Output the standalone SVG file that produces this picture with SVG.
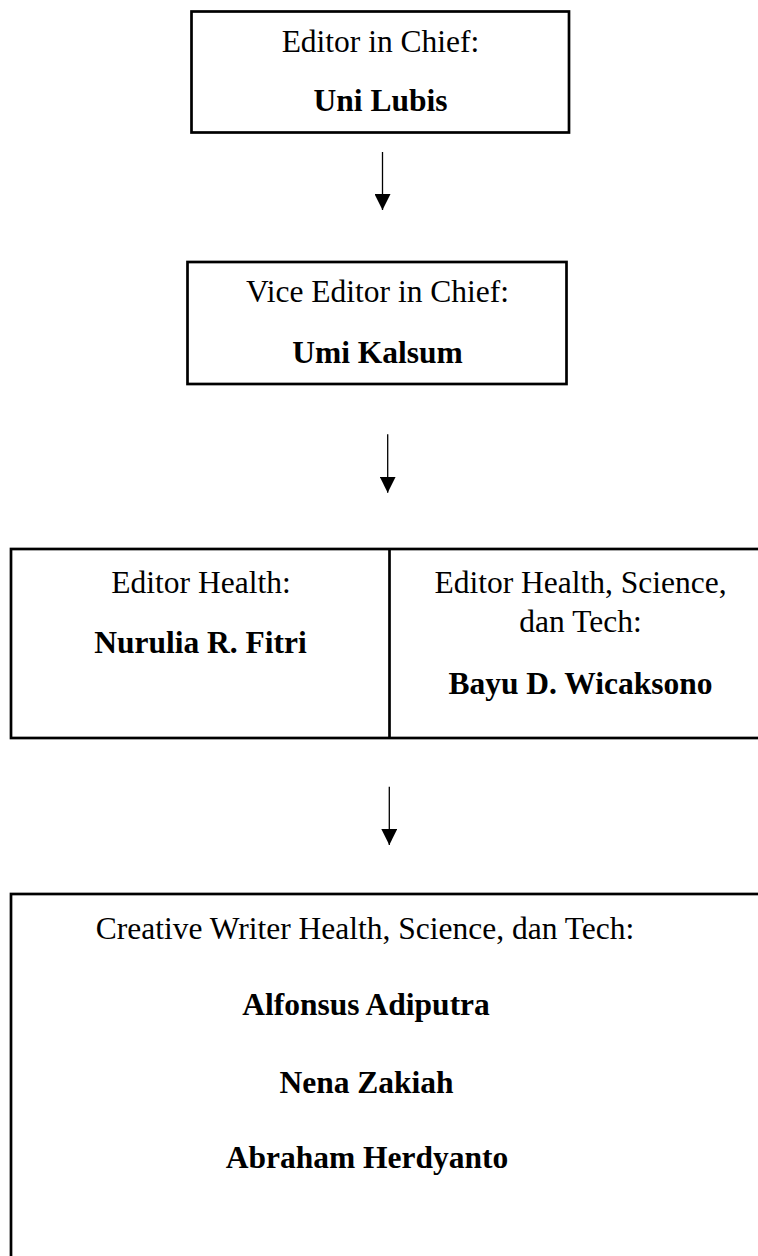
<svg xmlns="http://www.w3.org/2000/svg" width="758" height="1256" viewBox="0 0 758 1256">
<style>
.box{fill:#fff;stroke:#000;stroke-width:2.7}
.t{font-family:"Liberation Serif","Times New Roman",serif;font-size:31.5px;fill:#000;text-anchor:middle}
.b{font-weight:bold}
.c{stroke:#000;stroke-width:1.3;fill:none}
</style>
<defs>
<marker id="ah" markerUnits="userSpaceOnUse" markerWidth="16" markerHeight="16" refX="16" refY="8" orient="auto" viewBox="0 0 16 16">
<path d="M0,0 L16,8 L0,16 z" fill="#000"/>
</marker>
</defs>
<rect width="758" height="1256" fill="#fff"/>
<g id="n-chief">
<rect class="box" x="191.5" y="11.5" width="377.5" height="121"/>
<text class="t" x="380.5" y="51.7">Editor in Chief:</text>
<text class="t b" x="380.5" y="110.7">Uni Lubis</text>
</g>
<g id="n-vice">
<rect class="box" x="187.5" y="262" width="379" height="122"/>
<text class="t" x="377.5" y="301.7">Vice Editor in Chief:</text>
<text class="t b" x="377.5" y="363.3">Umi Kalsum</text>
</g>
<g id="n-editors">
<rect class="box" x="11" y="549" width="762" height="189"/>
<line x1="389.5" y1="549" x2="389.5" y2="738" stroke="#000" stroke-width="2.7"/>
<text class="t" x="201" y="592.5">Editor Health:</text>
<text class="t b" x="200.5" y="652.5">Nurulia R. Fitri</text>
<text class="t" x="580.5" y="593">Editor Health, Science,</text>
<text class="t" x="580.5" y="631.5">dan Tech:</text>
<text class="t b" x="580.5" y="693.5">Bayu D. Wicaksono</text>
</g>
<g id="n-writers">
<rect class="box" x="11" y="894" width="762" height="380"/>
<text class="t" x="365" y="939">Creative Writer Health, Science, dan Tech:</text>
<text class="t b" x="366" y="1015">Alfonsus Adiputra</text>
<text class="t b" x="366.5" y="1092.5">Nena Zakiah</text>
<text class="t b" x="367" y="1168">Abraham Herdyanto</text>
</g>
<g id="connectors">
<line class="c" x1="382.5" y1="152" x2="382.5" y2="210" marker-end="url(#ah)"/>
<line class="c" x1="387.7" y1="434.3" x2="387.7" y2="492.7" marker-end="url(#ah)"/>
<line class="c" x1="389.3" y1="786.7" x2="389.3" y2="845" marker-end="url(#ah)"/>
</g>
</svg>
